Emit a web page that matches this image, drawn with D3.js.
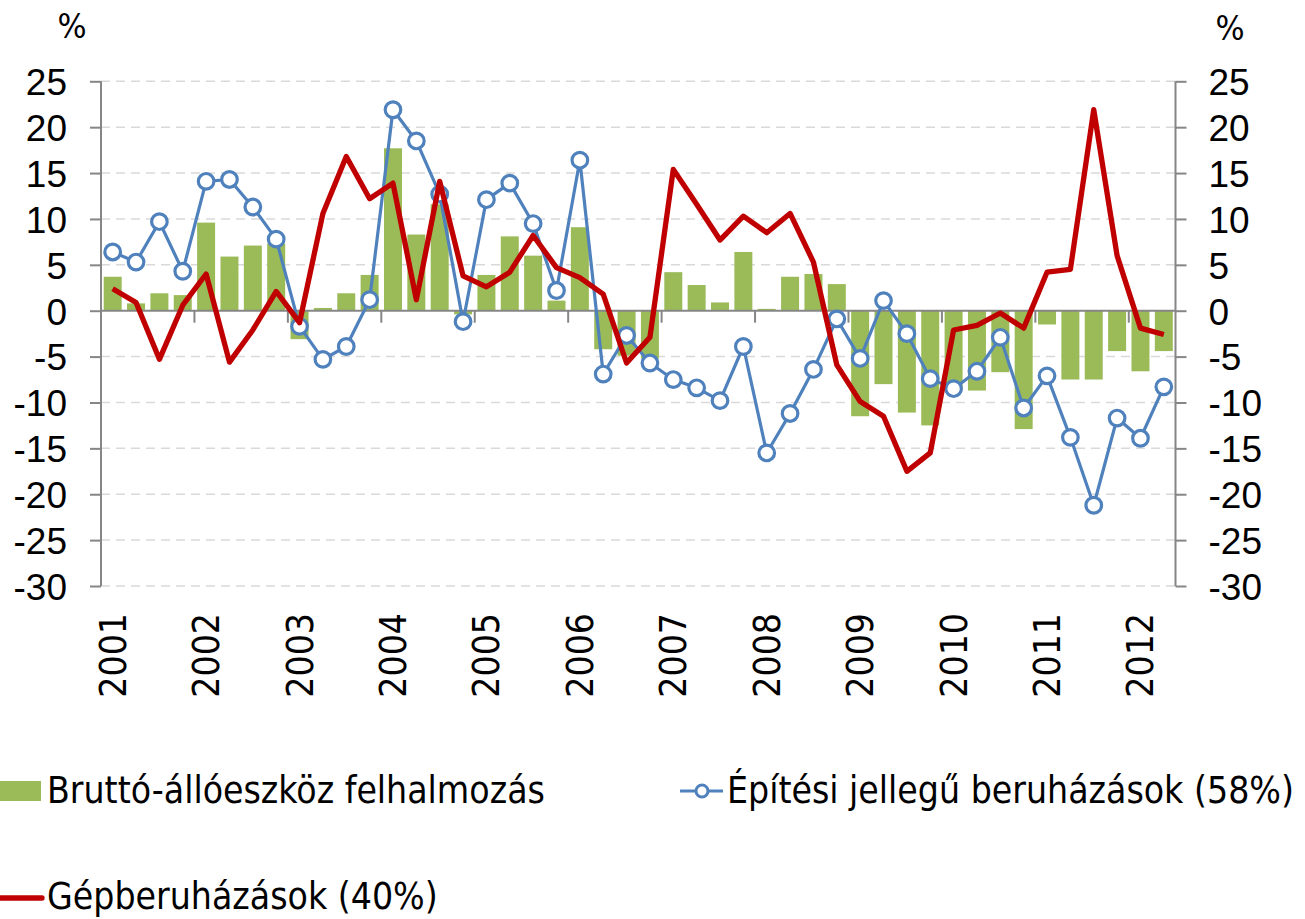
<!DOCTYPE html>
<html>
<head>
<meta charset="utf-8">
<script src="https://d3js.org/d3.v7.min.js"></script>
<title>Beruházások</title>
</head>
<style>
body {
  margin: 0;
  background: #fff;
}
svg {
  display: block;
  font-family: "Liberation Sans Narrow", "Arial Narrow", "DejaVu Sans Condensed", sans-serif;
}
.grid line {
  stroke: #d9d9d9;
  stroke-width: 1.5;
  stroke-dasharray: 9,6;
}
.axis path, .axis line {
  stroke: #868686;
  stroke-width: 2;
}
.axis text {
  font-size: 37px;
  fill: #000;
}
</style>
<body>
<svg width="1305" height="919"></svg>
<script>

// quarterly data, 2001 Q1 - 2012 Q2
let quarterLabels = [
  "2001","","","", "2002","","","", "2003","","","", "2004","","","",
  "2005","","","", "2006","","","", "2007","","","", "2008","","","",
  "2009","","","", "2010","","","", "2011","","","", "2012",""
];

// Bruttó-állóeszköz felhalmozás
let grossFixed = [
  3.7, 0.8, 1.9, 1.7, 9.6, 5.9, 7.1, 7.3, -3.1, 0.3, 1.9, 3.9,
  17.7, 8.3, 11.6, -0.4, 3.9, 8.1, 6.0, 1.1, 9.1, -4.2, -4.9, -5.2,
  4.2, 2.8, 0.9, 6.4, 0.2, 3.7, 4.0, 2.9, -11.5, -8.0, -11.1, -12.5,
  -8.3, -8.7, -6.7, -12.9, -1.5, -7.5, -7.5, -4.4, -6.6, -4.4
];

// Építési jellegű beruházások (58%)
let construction = [
  6.4, 5.3, 9.7, 4.3, 14.1, 14.3, 11.3, 7.8, -1.7, -5.3, -3.9, 1.2,
  21.9, 18.5, 12.7, -1.2, 12.1, 13.9, 9.5, 2.2, 16.4, -6.9, -2.7, -5.7,
  -7.5, -8.4, -9.8, -3.9, -15.5, -11.2, -6.4, -0.9, -5.2, 1.1, -2.5, -7.4,
  -8.5, -6.6, -2.9, -10.6, -7.1, -13.8, -21.2, -11.7, -13.9, -8.3
];

// Gépberuházások (40%)
let machinery = [
  2.4, 0.9, -5.3, 0.6, 4.0, -5.6, -2.1, 2.1, -1.3, 10.6, 16.8, 12.2,
  13.9, 1.2, 14.1, 3.8, 2.6, 4.2, 8.2, 4.7, 3.6, 1.8, -5.7, -2.9,
  15.4, 11.6, 7.7, 10.3, 8.5, 10.6, 5.3, -5.9, -9.9, -11.5, -17.5, -15.5,
  -2.1, -1.6, -0.25, -1.9, 4.2, 4.5, 21.9, 6.0, -1.9, -2.6
];

let yTicks = [25, 20, 15, 10, 5, 0, -5, -10, -15, -20, -25, -30];

let legendLabels = [
  "Bruttó-állóeszköz felhalmozás",
  "Építési jellegű beruházások (58%)",
  "Gépberuházások (40%)"
];

let green = "#9bbb59", blue = "#4f81bd", red = "#c00000";

let plotLeft = 101, plotRight = 1175.5, plotTop = 81.3, plotBottom = 586;

let svg = d3.select("svg");

let x = d3.scaleBand()
  .domain(d3.range(quarterLabels.length))
  .range([plotLeft, plotRight])
  .paddingInner(0.23)
  .paddingOuter(0.115);

let y = d3.scaleLinear()
  .domain([-30, 25])
  .range([plotBottom, plotTop]);

function cx(i) { return x(i) + x.bandwidth() / 2; }

// gridlines
svg.append("g").attr("class", "grid")
  .selectAll("line")
  .data(yTicks.filter(function(d){ return d !== 0; }))
  .enter().append("line")
  .attr("x1", plotLeft).attr("x2", plotRight)
  .attr("y1", function(d){ return y(d); })
  .attr("y2", function(d){ return y(d); });

// bars
svg.append("g")
  .selectAll("rect")
  .data(grossFixed)
  .enter().append("rect")
  .attr("x", function(d, i){ return x(i); })
  .attr("width", x.bandwidth())
  .attr("y", function(d){ return y(Math.max(0, d)); })
  .attr("height", function(d){ return Math.abs(y(d) - y(0)); })
  .attr("fill", green);

// left axis
let yLeft = svg.append("g").attr("class", "axis")
  .attr("transform", "translate(" + plotLeft + ",0)")
  .call(d3.axisLeft(y).tickValues(yTicks).tickSize(11).tickPadding(23)
    .tickFormat(function(d){ return String(d); }));

// right axis
let yRight = svg.append("g").attr("class", "axis")
  .attr("transform", "translate(" + plotRight + ",0)")
  .call(d3.axisRight(y).tickValues(yTicks).tickSize(11).tickPadding(22)
    .tickFormat(function(d){ return String(d); }));

[yLeft, yRight].forEach(function(g){
  g.select(".domain").attr("d", "M0," + plotTop + "V" + plotBottom);
  g.selectAll("text").attr("dy", "0.36em");
});

// category axis on zero line
let xAxis = svg.append("g").attr("class", "axis")
  .attr("transform", "translate(0," + y(0) + ")");

xAxis.append("line")
  .attr("x1", plotLeft).attr("x2", plotRight)
  .attr("y1", 0).attr("y2", 0);

let step = x.step();
let boundaries = d3.range(0, quarterLabels.length + 1, 4);
xAxis.selectAll(".yearTick")
  .data(boundaries)
  .enter().append("line")
  .attr("class", "yearTick")
  .attr("x1", function(d){ return Math.min(plotLeft + d * step, plotRight); })
  .attr("x2", function(d){ return Math.min(plotLeft + d * step, plotRight); })
  .attr("y1", 0).attr("y2", 12);

svg.append("g").attr("class", "axis")
  .selectAll("text")
  .data(quarterLabels.map(function(d, i){ return {label: d, i: i}; })
    .filter(function(d){ return d.label !== ""; }))
  .enter().append("text")
  .attr("transform", function(d){
    return "translate(" + (cx(d.i) + 13) + "," + 613 + ") rotate(-90)";
  })
  .attr("text-anchor", "end")
  .text(function(d){ return d.label; });

// % units
svg.append("text").attr("x", 72).attr("y", 38)
  .attr("text-anchor", "middle").style("font-size", "34px").text("%");
svg.append("text").attr("x", 1230).attr("y", 40)
  .attr("text-anchor", "middle").style("font-size", "34px").text("%");

// construction line
let lineC = d3.line()
  .x(function(d, i){ return cx(i); })
  .y(function(d){ return y(d); });

svg.append("path")
  .datum(construction)
  .attr("d", lineC)
  .attr("fill", "none")
  .attr("stroke", blue)
  .attr("stroke-width", 3.2)
  .attr("stroke-linejoin", "round");

svg.append("g")
  .selectAll("circle")
  .data(construction)
  .enter().append("circle")
  .attr("cx", function(d, i){ return cx(i); })
  .attr("cy", function(d){ return y(d); })
  .attr("r", 7.8)
  .attr("fill", "#fff")
  .attr("stroke", blue)
  .attr("stroke-width", 3.2);

// machinery line
svg.append("path")
  .datum(machinery)
  .attr("d", lineC)
  .attr("fill", "none")
  .attr("stroke", red)
  .attr("stroke-width", 5.3)
  .attr("stroke-linejoin", "round");

// legend
let legend = svg.append("g").style("font-size", "37px");

legend.append("rect")
  .attr("x", 0).attr("y", 781).attr("width", 41).attr("height", 20)
  .attr("fill", green);
legend.append("text").attr("x", 47).attr("y", 803).text(legendLabels[0]);

legend.append("line")
  .attr("x1", 680).attr("x2", 723).attr("y1", 791).attr("y2", 791)
  .attr("stroke", blue).attr("stroke-width", 3.2);
legend.append("circle")
  .attr("cx", 702).attr("cy", 791).attr("r", 6)
  .attr("fill", "#fff").attr("stroke", blue).attr("stroke-width", 3);
legend.append("text").attr("x", 727).attr("y", 803).text(legendLabels[1]);

legend.append("line")
  .attr("x1", 0).attr("x2", 42).attr("y1", 898).attr("y2", 898)
  .attr("stroke", red).attr("stroke-width", 5.3)
  .attr("stroke-linecap", "round");
legend.append("text").attr("x", 47).attr("y", 909).text(legendLabels[2]);

</script>
</body>
</html>
